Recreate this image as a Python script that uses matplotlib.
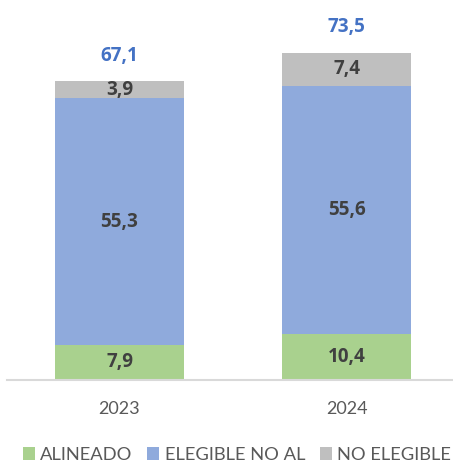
import numpy as np
import matplotlib.pyplot as plt

years = ["2023", "2024"]
alineado = [7.9, 10.4]
elegible_no_al = [55.3, 55.6]
no_elegible = [3.9, 7.4]
totales = [67.1, 73.5]

series = [("ALINEADO", alineado, "#A9D18E"),
          ("ELEGIBLE NO AL", elegible_no_al, "#8FAADC"),
          ("NO ELEGIBLE", no_elegible, "#BFBFBF")]

plt.rcParams['font.family'] = ['Lato', 'DejaVu Sans']
bold_font = ['Open Sans', 'DejaVu Sans']

fig = plt.figure(figsize=(4.53, 4.63), dpi=100)
ax = fig.add_axes([7 / 453, 83 / 463, 446 / 453, 356.5 / 463])

x = np.arange(len(years))
bottom = np.zeros(len(years))
handles = []
for name, vals, color in series:
    bars = ax.bar(x, vals, width=0.568, bottom=bottom, color=color, label=name)
    handles.append(bars)
    for xi, b, v in zip(x, bottom, vals):
        ax.text(xi, b + v / 2, ("%.1f" % v).replace(".", ","), ha="center", va="center",
                fontsize=13.6, fontweight="bold", family=bold_font, color="#404040")
    bottom += np.array(vals)

# totals above each stack
for xi, t in zip(x, totales):
    ax.annotate(("%.1f" % t).replace(".", ","), (xi, t), xytext=(0, 25), textcoords="offset pixels",
                ha="center", va="center", fontsize=13.6, fontweight="bold", family=bold_font,
                color="#4472C4", annotation_clip=False)

ax.set_xlim(-0.4956, 1.469)
ax.set_ylim(0, 80)
ax.set_xticks(x)
ax.set_xticklabels(years, fontsize=13, color="#595959")
ax.tick_params(axis="x", length=0, pad=15)
ax.set_yticks([])
for s in ["top", "right", "left"]:
    ax.spines[s].set_visible(False)
ax.spines["bottom"].set_color("#D9D9D9")
ax.spines["bottom"].set_linewidth(1.5)

fig.legend(handles=handles, loc="center", bbox_to_anchor=(237 / 453, 1 - 455 / 463), ncol=3,
           frameon=False, fontsize=13.2, handlelength=0.65, handleheight=0.65, handletextpad=0.3,
           columnspacing=0.8, labelcolor="#595959")

fig.savefig("out.png", dpi=100)
